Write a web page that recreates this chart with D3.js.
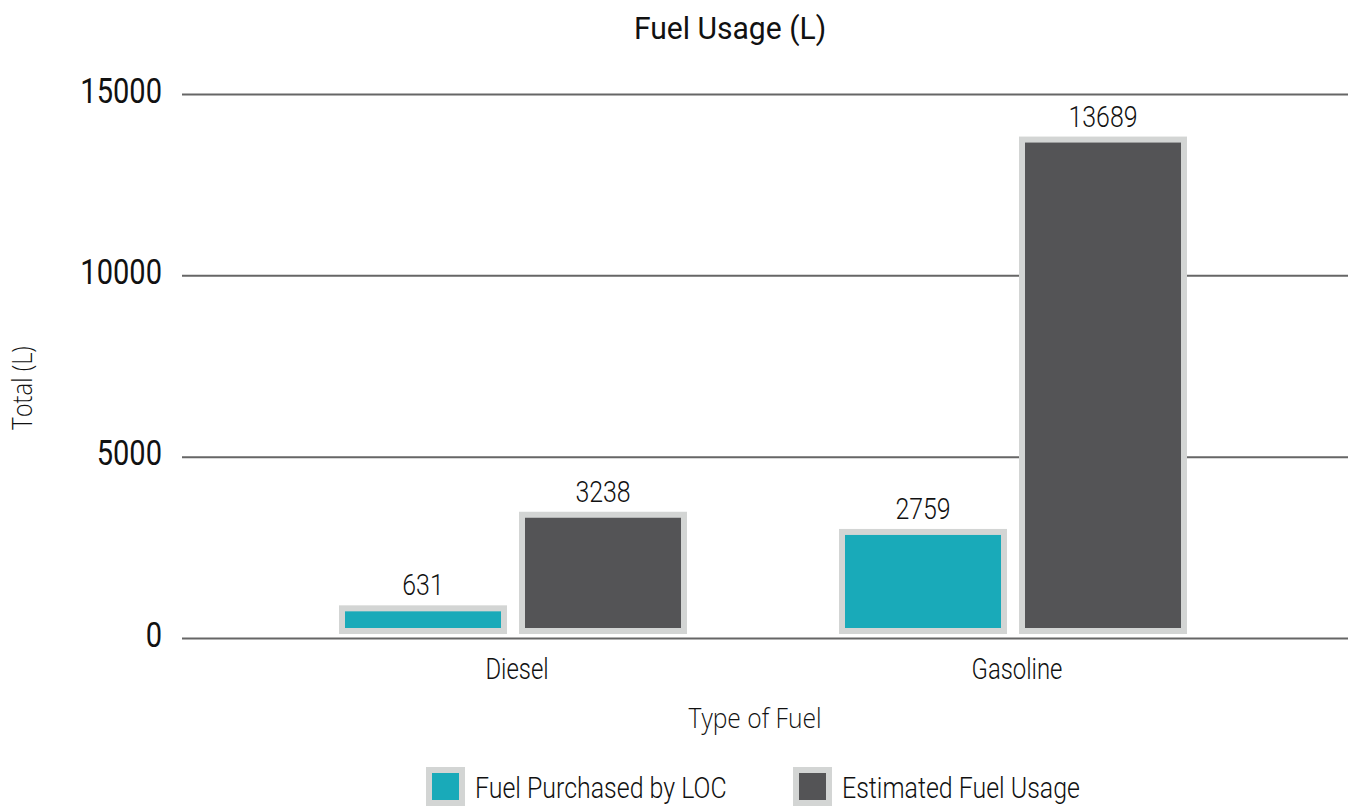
<!DOCTYPE html>
<html>
<head>
<meta charset="utf-8">
<script src="https://cdn.jsdelivr.net/npm/d3@7"></script>
<style>
  html, body { margin: 0; padding: 0; background: #ffffff; }
  svg { display: block; }
</style>
</head>
<body>
<svg id="chart" width="1348" height="806"></svg>
<script>
// ---- data ----
const categories = ["Diesel", "Gasoline"];
const seriesNames = ["Fuel Purchased by LOC", "Estimated Fuel Usage"];
const purchasedByLOC = [631, 2759];
const estimatedUsage = [3238, 13689];
const yTickValues = [0, 5000, 10000, 15000];
const chartTitle = "Fuel Usage (L)";
const xAxisTitle = "Type of Fuel";
const yAxisTitle = "Total (L)";

// ---- styling ----
const colors = ["#19aab9", "#545456"];
const borderColor = "#d3d5d4";
const gridColor = "#666666";

const svg = d3.select("#chart");
const plot = { left: 182, right: 1348, top: 94.5, bottom: 638.5 };

const y = d3.scaleLinear().domain([0, 15000]).range([plot.bottom, plot.top]);
// bars sit a few px above the axis baseline
const yBar = d3.scaleLinear().domain([0, 15000]).range([plot.bottom - 7.5, plot.top - 2]);

const x0 = d3.scaleBand().domain(categories).range([plot.left, 1344])
  .paddingInner(0.316).paddingOuter(0.32);
const x1 = d3.scaleBand().domain(seriesNames).range([0, x0.bandwidth()]).paddingInner(0.1);

function txt(parent, x, yy, s, opts) {
  return parent.append("text")
    .attr("transform", `translate(${x},${yy})${opts.rotate ? ` rotate(${opts.rotate})` : ""} scale(${opts.sx || 1},1)`)
    .attr("text-anchor", opts.anchor || "middle")
    .style("font-family", opts.family || "Roboto")
    .style("font-size", opts.size + "px")
    .style("font-weight", opts.weight || 400)
    .style("fill", opts.fill || "#111")
    .text(s);
}

// gridlines
svg.append("g").selectAll("line").data(yTickValues).join("line")
  .attr("x1", plot.left).attr("x2", plot.right)
  .attr("y1", d => y(d)).attr("y2", d => y(d))
  .attr("stroke", gridColor).attr("stroke-width", 2);

// y tick labels
const yt = svg.append("g");
yTickValues.forEach(v => {
  txt(yt, 162, y(v) + 8, String(v), { size: 35, sx: 0.83, anchor: "end", weight: 400 });
});

// bars
const rows = categories.map((c, i) => ({
  cat: c,
  vals: [
    { s: seriesNames[0], v: purchasedByLOC[i], c: colors[0] },
    { s: seriesNames[1], v: estimatedUsage[i], c: colors[1] }
  ]
}));

const groups = svg.append("g").selectAll("g").data(rows).join("g")
  .attr("transform", d => `translate(${x0(d.cat)},0)`);

groups.selectAll("rect").data(d => d.vals).join("rect")
  .attr("x", d => x1(d.s))
  .attr("width", x1.bandwidth())
  .attr("y", d => yBar(d.v))
  .attr("height", d => yBar(0) - yBar(d.v))
  .attr("fill", d => d.c)
  .attr("stroke", borderColor)
  .attr("stroke-width", 6);

groups.each(function(d) {
  const g = d3.select(this);
  d.vals.forEach(b => {
    txt(g, x1(b.s) + x1.bandwidth() / 2, yBar(b.v) - 13, String(b.v),
      { size: 30, sx: 0.83, weight: 300 });
  });
});

// category labels
categories.forEach(c => {
  txt(svg, x0(c) + x0.bandwidth() / 2 + 4, 678.5, c, { size: 29.5, sx: 0.81, weight: 300 });
});

// title
txt(svg, 730, 38.5, chartTitle, { size: 32, sx: 0.94, weight: 400 });

// axis titles
txt(svg, 755, 728, xAxisTitle, { size: 28, sx: 0.88, weight: 300, family: "Open Sans" });
txt(svg, 32, 388, yAxisTitle, { size: 27, sx: 0.88, weight: 300, family: "Open Sans", rotate: -90 });

// legend
const legendItems = [
  { name: seriesNames[0], c: colors[0], x: 429 },
  { name: seriesNames[1], c: colors[1], x: 796 }
];
const lg = svg.append("g");
legendItems.forEach(it => {
  lg.append("rect").attr("x", it.x).attr("y", 770).attr("width", 33).attr("height", 33)
    .attr("fill", it.c).attr("stroke", borderColor).attr("stroke-width", 6);
  txt(lg, it.x + 46, 798, it.name, { size: 29, sx: 0.86, weight: 300, anchor: "start" });
});
</script>
</body>
</html>
